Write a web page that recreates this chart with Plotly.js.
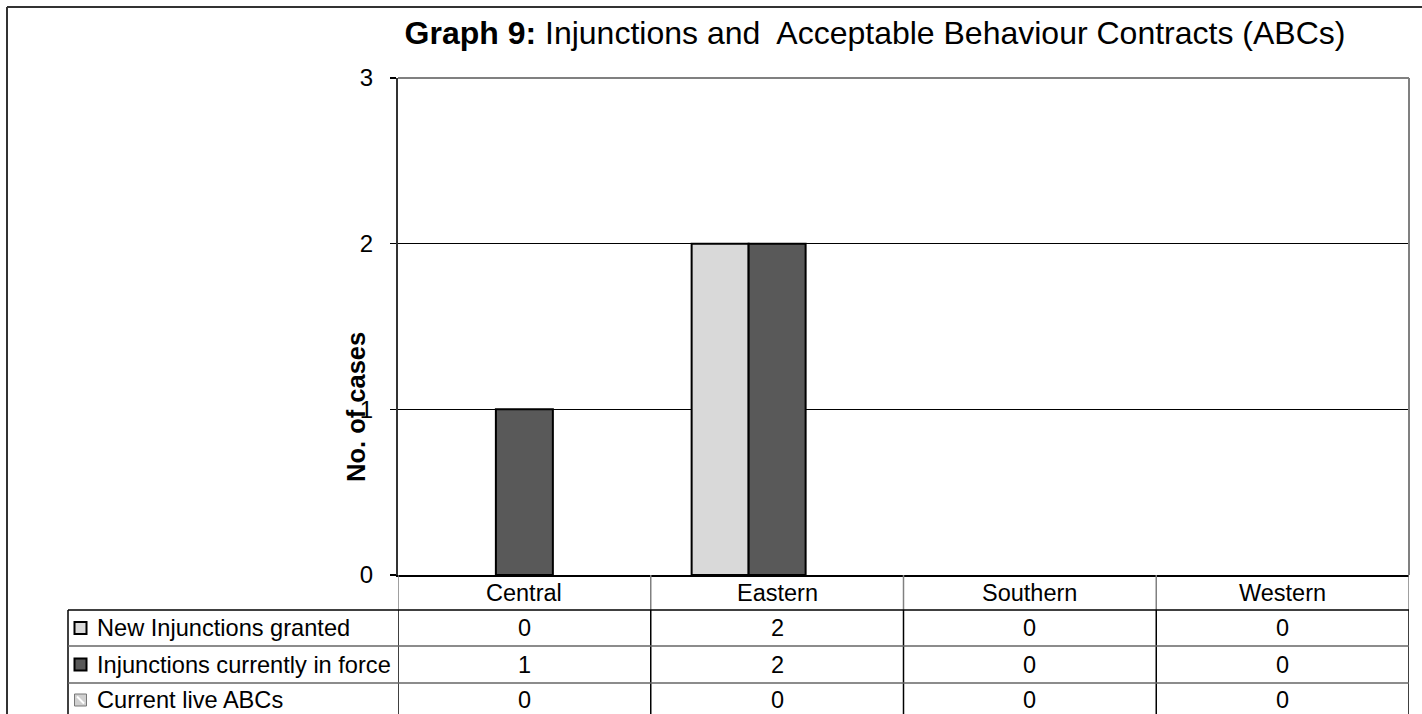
<!DOCTYPE html>
<html>
<head>
<meta charset="utf-8">
<script src="https://cdn.plot.ly/plotly-3.0.1.min.js"></script>
<style>html,body{margin:0;padding:0;background:#fff;}#chart{width:1422px;height:714px;}</style>
</head>
<body>
<div id="chart"></div>
<script>
// ---- data ----
const regions = ['Central', 'Eastern', 'Southern', 'Western'];
const seriesNames = ['New Injunctions granted', 'Injunctions currently in force', 'Current live ABCs'];
const newInjunctions = [0, 2, 0, 0];
const injunctionsInForce = [1, 2, 0, 0];
const currentLiveABCs = [0, 0, 0, 0];
const yTicks = [0, 1, 2, 3];

// ---- layout helpers (pixel -> paper) ----
const W = 1422, H = 714;
const ML = 398, MR = 13, MT = 78, MB = 139;
const PW = W - ML - MR, PH = H - MT - MB;
const px = x => (x - ML) / PW;
const py = y => (H - MB - y) / PH;
const FONT = 'Liberation Sans, Arial, sans-serif';

const seriesValues = [newInjunctions, injunctionsInForce, currentLiveABCs];
const fills = ['#D9D9D9', '#595959', '#E6E6E6'];

const traces = seriesValues.map((vals, i) => ({
  type: 'bar',
  name: seriesNames[i],
  x: regions,
  y: vals,
  marker: {
    color: fills[i],
    line: {color: '#000', width: vals.map(v => (v ? 2 : 0))},
    pattern: i === 2 ? {shape: '\\', fgcolor: '#555', bgcolor: '#fff', size: 6, solidity: 0.3} : undefined
  },
  hoverinfo: 'x+y+name'
}));

// table geometry in pixels
const tblLeft = 68, rowTops = [575, 610, 646, 683, 722];
const rowCenters = [592.5, 628, 664.5, 700];

const shapes = [];
const annotations = [];

// outer chart frame
shapes.push({type: 'line', xref: 'paper', yref: 'paper', x0: px(7), x1: px(1440), y0: py(7), y1: py(7), line: {color: '#333', width: 2}});
shapes.push({type: 'line', xref: 'paper', yref: 'paper', x0: px(7), x1: px(7), y0: py(7), y1: py(740), line: {color: '#333', width: 2}});

// plot-area top & right borders (gray)
shapes.push({type: 'line', xref: 'paper', yref: 'paper', x0: 0, x1: 1, y0: 1, y1: 1, line: {color: '#808080', width: 2}});
shapes.push({type: 'line', xref: 'paper', yref: 'paper', x0: 1, x1: 1, y0: 0, y1: 1, line: {color: '#808080', width: 2}});

// table: header row vertical dividers (gray), body dividers (black)
for (let i = 0; i <= regions.length; i++) {
  shapes.push({type: 'line', xref: 'x', yref: 'paper', x0: i - 0.5, x1: i - 0.5, y0: py(rowTops[0]), y1: py(rowTops[1]), line: {color: '#808080', width: 1.5}});
  shapes.push({type: 'line', xref: 'x', yref: 'paper', x0: i - 0.5, x1: i - 0.5, y0: py(rowTops[1]), y1: py(rowTops[4]), line: {color: '#000', width: 1.5}});
}
// left border of table rows
shapes.push({type: 'line', xref: 'paper', yref: 'paper', x0: px(tblLeft), x1: px(tblLeft), y0: py(rowTops[1]), y1: py(rowTops[4]), line: {color: '#000', width: 1.5}});
// horizontal row lines
shapes.push({type: 'line', xref: 'paper', yref: 'paper', x0: px(tblLeft), x1: 1, y0: py(rowTops[1]), y1: py(rowTops[1]), line: {color: '#000', width: 1.5}});
shapes.push({type: 'line', xref: 'paper', yref: 'paper', x0: px(tblLeft), x1: 1, y0: py(rowTops[2]), y1: py(rowTops[2]), line: {color: '#666', width: 1.5}});
shapes.push({type: 'line', xref: 'paper', yref: 'paper', x0: px(tblLeft), x1: 1, y0: py(rowTops[3]), y1: py(rowTops[3]), line: {color: '#666', width: 1.5}});

// header category labels
regions.forEach((r) => {
  annotations.push({xref: 'x', yref: 'paper', x: r, y: py(rowCenters[0]), text: r, showarrow: false,
    xanchor: 'center', yanchor: 'middle', font: {family: FONT, size: 23.5, color: '#000'}});
});

// rows: legend key + label + values
const keySize = 12;
seriesValues.forEach((vals, s) => {
  const cy = rowCenters[s + 1];
  shapes.push({type: 'rect', xref: 'paper', yref: 'paper',
    x0: px(74.5), x1: px(74.5 + keySize), y0: py(cy - keySize / 2), y1: py(cy + keySize / 2),
    fillcolor: s === 2 ? '#D0D0D0' : fills[s], line: {color: s === 2 ? '#777' : '#000', width: s === 2 ? 1 : 2}});
  if (s === 2) {
    shapes.push({type: 'line', xref: 'paper', yref: 'paper', x0: px(77), x1: px(84), y0: py(cy - 3.5), y1: py(cy + 3.5), line: {color: '#fff', width: 2}});
  }
  annotations.push({xref: 'paper', yref: 'paper', x: px(95), y: py(cy), text: seriesNames[s], showarrow: false,
    xanchor: 'left', yanchor: 'middle', font: {family: FONT, size: 23.6, color: '#000'}});
  vals.forEach((v, i) => {
    annotations.push({xref: 'x', yref: 'paper', x: regions[i], y: py(cy), text: String(v), showarrow: false,
      xanchor: 'center', yanchor: 'middle', font: {family: FONT, size: 23.5, color: '#000'}});
  });
});

// y-axis title
annotations.push({xref: 'paper', yref: 'paper', x: px(356), y: py(407), text: '<b>No. of cases</b>', textangle: -90,
  showarrow: false, xanchor: 'center', yanchor: 'middle', font: {family: FONT, size: 25.5, color: '#000'}});

const layout = {
  width: W, height: H,
  margin: {l: ML, r: MR, t: MT, b: MB, pad: 0},
  paper_bgcolor: '#fff', plot_bgcolor: '#fff',
  showlegend: false,
  barmode: 'group',
  bargap: 0.3235,
  bargroupgap: 0,
  title: {
    text: '<b>Graph 9:</b> Injunctions and&nbsp; Acceptable Behaviour Contracts (ABCs)',
    x: 875 / W, xanchor: 'center', xref: 'container',
    y: 1 - 33 / H, yanchor: 'middle', yref: 'container',
    font: {family: FONT, size: 32, color: '#000'}
  },
  xaxis: {
    type: 'category',
    categoryorder: 'array', categoryarray: regions,
    range: [-0.5, regions.length - 0.5],
    showticklabels: false, ticks: '',
    showline: true, linecolor: '#000', linewidth: 2,
    showgrid: false, zeroline: false, fixedrange: true
  },
  yaxis: {
    range: [0, 3],
    tickvals: yTicks, ticktext: yTicks.map(String),
    ticks: 'outside', ticklen: 6, tickcolor: '#000', tickwidth: 1.5,
    ticklabelstandoff: 12,
    tickfont: {family: FONT, size: 24, color: '#000'},
    showline: true, linecolor: '#333', linewidth: 2,
    showgrid: true, gridcolor: '#000', gridwidth: 1,
    zeroline: false, fixedrange: true
  },
  shapes: shapes,
  annotations: annotations
};

Plotly.newPlot('chart', traces, layout, {displayModeBar: false, staticPlot: true});
</script>
</body>
</html>
